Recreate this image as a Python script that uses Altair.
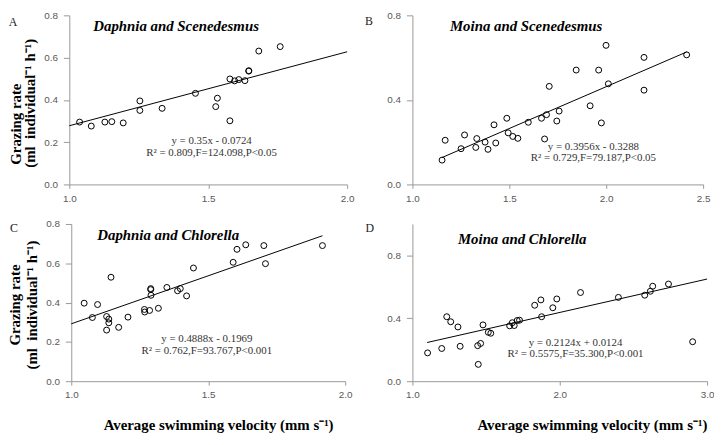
import altair as alt
import pandas as pd

# ---------------- data ----------------
a_x = [1.037, 1.079, 1.128, 1.153, 1.194, 1.254, 1.254, 1.334, 1.454, 1.527, 1.533,
       1.578, 1.578, 1.595, 1.610, 1.632, 1.646, 1.646, 1.682, 1.759]
a_y = [0.295, 0.276, 0.295, 0.297, 0.291, 0.395, 0.350, 0.360, 0.431, 0.368, 0.408,
       0.499, 0.301, 0.490, 0.496, 0.491, 0.538, 0.536, 0.631, 0.652]

b_x = [1.153, 1.169, 1.251, 1.269, 1.327, 1.332, 1.375, 1.390, 1.421, 1.430, 1.487,
       1.494, 1.518, 1.544, 1.598, 1.666, 1.682, 1.692, 1.706, 1.745, 1.757, 1.845,
       1.917, 1.961, 1.975, 1.999, 2.011, 2.195, 2.195, 2.415]
b_y = [0.115, 0.209, 0.169, 0.234, 0.175, 0.217, 0.200, 0.166, 0.282, 0.196, 0.313,
       0.244, 0.227, 0.218, 0.294, 0.313, 0.215, 0.330, 0.464, 0.300, 0.347, 0.541,
       0.372, 0.541, 0.291, 0.658, 0.476, 0.601, 0.446, 0.613]

c_x = [1.047, 1.077, 1.096, 1.129, 1.129, 1.137, 1.137, 1.145, 1.173, 1.207, 1.267,
       1.268, 1.286, 1.290, 1.290, 1.291, 1.318, 1.349, 1.388, 1.398, 1.421, 1.446,
       1.591, 1.605, 1.637, 1.703, 1.709, 1.917]
c_y = [0.397, 0.324, 0.390, 0.329, 0.260, 0.316, 0.297, 0.529, 0.274, 0.326, 0.365,
       0.352, 0.360, 0.466, 0.471, 0.437, 0.371, 0.477, 0.460, 0.471, 0.434, 0.576,
       0.605, 0.671, 0.694, 0.690, 0.598, 0.690]

d_x = [1.103, 1.199, 1.233, 1.260, 1.309, 1.324, 1.443, 1.447, 1.463, 1.479, 1.515,
       1.532, 1.660, 1.678, 1.691, 1.711, 1.727, 1.830, 1.872, 1.877, 1.953, 1.980,
       2.141, 2.398, 2.577, 2.615, 2.631, 2.738, 2.902]
d_y = [0.180, 0.208, 0.410, 0.378, 0.345, 0.222, 0.226, 0.107, 0.240, 0.358, 0.311,
       0.305, 0.352, 0.372, 0.354, 0.386, 0.388, 0.483, 0.517, 0.410, 0.467, 0.523,
       0.564, 0.533, 0.547, 0.572, 0.604, 0.618, 0.251]

# regression lines (slope, intercept from the printed equations; x extent of each line)
a_fit = (0.35, -0.0724, [1.0, 2.0])
b_fit = (0.3956, -0.3288, [1.153, 2.415])
c_fit = (0.4888, -0.1969, [1.0, 1.917])
d_fit = (0.2124, 0.0124, [1.1, 3.0])

titles = ["Daphnia and Scenedesmus", "Moina and Scenedesmus",
          "Daphnia and Chlorella", "Moina and Chlorella"]
letters = ["A", "B", "C", "D"]
eqs = [("y = 0.35x - 0.0724", "R\u00b2 = 0.809,F=124.098,P<0.05"),
       ("y = 0.3956x - 0.3288", "R\u00b2 = 0.729,F=79.187,P<0.05"),
       ("y = 0.4888x - 0.1969", "R\u00b2 = 0.762,F=93.767,P<0.001"),
       ("y = 0.2124x + 0.0124", "R\u00b2 = 0.5575,F=35.300,P<0.001")]
ytitle = ["Grazing rate", "(ml\u00a0 individual\u207b\u00b9 h\u207b\u00b9)"]
xtitle = "Average swimming velocity (mm s\u207b\u00b9)"

SERIF = "Liberation Serif"


def ptext(t, x, y, **kw):
    return alt.Chart(pd.DataFrame({"t": [t]})).mark_text(**kw).encode(
        x=alt.value(x), y=alt.value(y), text="t:N")


def panel(xs, ys, xdom, xticks, ydom, yticks, w, h, fit, title, title_pos,
          eq, eq_pos, letter, letter_pos, ytitle_pos=None, xtitle_pos=None):
    X = alt.X("x:Q", scale=alt.Scale(domain=xdom, nice=False, zero=False),
              axis=alt.Axis(values=xticks, format=".1f", title=None))
    Y = alt.Y("y:Q", scale=alt.Scale(domain=ydom, nice=False, zero=False),
              axis=alt.Axis(values=yticks, format=".1f", title=None))
    pts = alt.Chart(pd.DataFrame({"x": xs, "y": ys})).mark_point(
        shape="circle", filled=False, color="black", size=36, strokeWidth=1,
        opacity=1).encode(x=X, y=Y)
    slope, icpt, lx = fit
    line = alt.Chart(pd.DataFrame({"x": lx, "y": [slope * v + icpt for v in lx]})).mark_line(
        color="black", strokeWidth=1).encode(x=X, y=Y)
    eq_df = pd.DataFrame({"x": [eq_pos[0], eq_pos[0]], "y": [eq_pos[1], eq_pos[2]],
                          "t": [eq[0], eq[1]]})
    eqt = alt.Chart(eq_df).mark_text(font=SERIF, fontSize=11, color="#333333").encode(
        x=X, y=Y, text="t:N")
    layers = [line, pts, eqt,
              ptext(title, title_pos[0], title_pos[1], font=SERIF, fontSize=15,
                    fontStyle="italic", fontWeight="bold", color="black"),
              ptext(letter, letter_pos[0], letter_pos[1], font=SERIF, fontSize=12,
                    color="#222222")]
    if ytitle_pos is not None:
        (x1, y1), (x2, y2) = ytitle_pos
        layers.append(ptext(ytitle[0], x1, y1, font=SERIF, fontSize=15, fontWeight="bold",
                            angle=270, color="black"))
        layers.append(ptext(ytitle[1], x2, y2, font=SERIF, fontSize=15, fontWeight="bold",
                            angle=270, color="black"))
    if xtitle_pos is not None:
        layers.append(ptext(xtitle, xtitle_pos[0], xtitle_pos[1], font=SERIF, fontSize=15,
                            fontWeight="bold", color="black"))
    return alt.layer(*layers).properties(width=w, height=h)


HA, HC = 171, 159

pA = panel(a_x, a_y, [1.0, 2.0], [1.0, 1.5, 2.0], [0, 0.8], [0, 0.2, 0.4, 0.6, 0.8],
           281, HA, a_fit, titles[0], (108, 11), eqs[0], (1.512, 0.2045, 0.150),
           letters[0], (-57, 7), ytitle_pos=((-54, 110), (-40, 89)))
pB = panel(b_x, b_y, [1.0, 2.5], [1.0, 1.5, 2.0, 2.5], [0, 0.8], [0, 0.4, 0.8],
           294, HA, b_fit, titles[1], (115, 11), eqs[1], (1.934, 0.177, 0.127),
           letters[1], (-44, 6))
pC = panel(c_x, c_y, [1.0, 2.0], [1.0, 1.5, 2.0], [0, 0.8], [0, 0.2, 0.4, 0.6, 0.8],
           277, HC, c_fit, titles[2], (98, 11), eqs[2], (1.495, 0.213, 0.155),
           letters[2], (-58, 4), ytitle_pos=((-57, 82), (-40, 82)),
           xtitle_pos=(149, HC + 44))
pD = panel(d_x, d_y, [1.0, 3.0], [1.0, 2.0, 3.0], [0, 1.0], [0, 0.4, 0.8],
           298, HC, d_fit, titles[3], (111, 15), eqs[3], (2.107, 0.242, 0.170),
           letters[3], (-43, 4), xtitle_pos=(182, HC + 44))

chart = alt.concat(pA, pB, pC, pD, columns=2, spacing={"row": 40, "column": 66},
                   bounds="flush", center=True).properties(
    padding=0
).configure_view(stroke=None).configure_axis(
    domainColor="#999999", tickColor="#999999", domainWidth=1, tickWidth=1,
    labelFont="Liberation Sans", labelFontSize=10, labelColor="#595959", grid=False
).configure_axisX(
    tickSize=4, labelPadding=5, labelFlush=False
).configure_axisY(
    tickSize=6, labelPadding=6, labelFlush=False
)

chart.save("out.html", embed_options={"renderer": "svg", "actions": False})
